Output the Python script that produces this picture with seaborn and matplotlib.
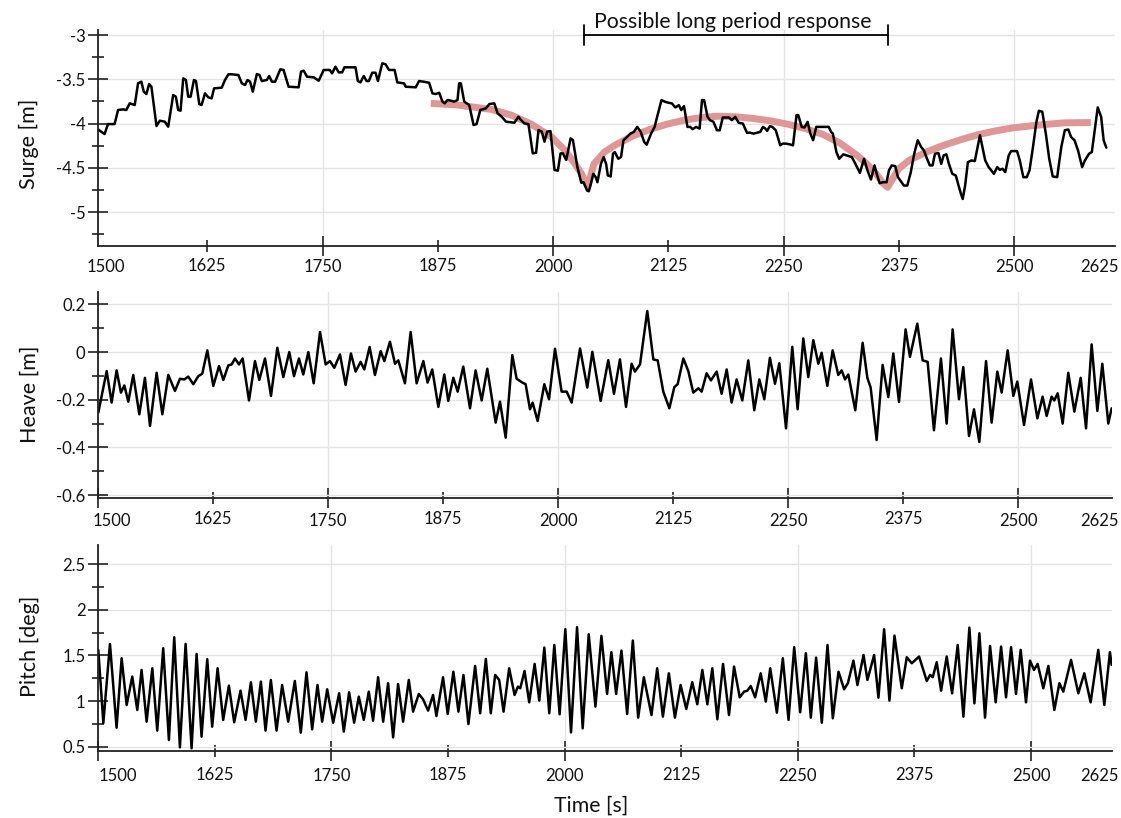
import matplotlib
matplotlib.use("Agg")
import pandas as pd
import matplotlib.pyplot as plt
from matplotlib.ticker import FixedLocator, FuncFormatter
import seaborn as sns

# values: (time [s], value)
surge_pts = [
    (1506.4, -4.066), (1513.6, -4.119), (1517.3, -4.006), (1524.5, -4.006), (1528.2, -3.847),
    (1533.6, -3.840), (1537.2, -3.847), (1540.9, -3.772), (1546.3, -3.791), (1549.9, -3.546),
    (1553.5, -3.527), (1556.1, -3.640), (1559.0, -3.667), (1561.9, -3.554), (1564.4, -3.584),
    (1569.9, -4.028), (1573.5, -3.968), (1578.9, -3.979), (1582.6, -4.036), (1588.0, -3.678),
    (1590.9, -3.697), (1593.4, -3.847), (1596.0, -3.855), (1598.9, -3.490), (1601.8, -3.508),
    (1604.3, -3.697), (1606.9, -3.697), (1610.5, -3.508), (1612.7, -3.520), (1616.3, -3.780),
    (1618.8, -3.791), (1622.5, -3.659), (1626.1, -3.704), (1629.7, -3.716), (1632.3, -3.603),
    (1640.6, -3.595), (1644.2, -3.508), (1647.9, -3.444), (1651.5, -3.444), (1658.7, -3.452),
    (1662.4, -3.546), (1666.0, -3.565), (1668.5, -3.508), (1671.4, -3.527), (1674.3, -3.640),
    (1678.7, -3.441), (1681.6, -3.452), (1684.1, -3.520), (1689.6, -3.508), (1692.1, -3.463),
    (1695.0, -3.527), (1698.6, -3.527), (1704.1, -3.388), (1707.7, -3.395), (1713.1, -3.584),
    (1724.0, -3.591), (1726.6, -3.414), (1729.5, -3.403), (1733.1, -3.471), (1740.3, -3.478),
    (1745.8, -3.516), (1751.2, -3.395), (1757.8, -3.395), (1760.3, -3.433), (1763.9, -3.358),
    (1767.5, -3.422), (1771.2, -3.422), (1773.7, -3.365), (1785.7, -3.365), (1788.2, -3.520),
    (1791.1, -3.535), (1794.7, -3.463), (1797.7, -3.520), (1800.2, -3.520), (1803.8, -3.426),
    (1807.4, -3.426), (1810.0, -3.520), (1814.7, -3.320), (1818.3, -3.331), (1822.0, -3.395),
    (1828.1, -3.395), (1831.0, -3.535), (1838.3, -3.546), (1840.1, -3.584), (1851.0, -3.591),
    (1854.6, -3.520), (1859.3, -3.527), (1865.5, -3.539), (1869.1, -3.659), (1872.7, -3.667),
    (1876.4, -3.652), (1880.0, -3.753), (1882.5, -3.772), (1885.4, -3.734), (1889.1, -3.742),
    (1892.7, -3.753), (1896.3, -3.734), (1898.1, -3.546), (1899.9, -3.546), (1903.6, -3.753),
    (1909.0, -3.791), (1913.7, -4.017), (1917.0, -4.006), (1921.0, -3.847), (1927.1, -3.829),
    (1930.8, -3.780), (1936.2, -3.772), (1939.8, -3.885), (1944.2, -3.923), (1948.9, -3.979),
    (1958.0, -3.991), (1962.3, -3.923), (1965.2, -3.960), (1968.8, -3.998), (1973.2, -4.006),
    (1977.9, -4.337), (1981.5, -4.330), (1984.1, -4.073), (1987.7, -4.092), (1990.6, -4.205),
    (1993.5, -4.092), (1997.1, -4.085), (2001.5, -4.525), (2005.1, -4.533), (2008.0, -4.337),
    (2010.6, -4.337), (2014.2, -4.412), (2018.9, -4.168), (2021.4, -4.186), (2026.2, -4.488),
    (2030.5, -4.669), (2033.0, -4.663), (2036.8, -4.758), (2038.7, -4.765), (2041.3, -4.663),
    (2043.5, -4.568), (2046.2, -4.606), (2048.0, -4.663), (2051.8, -4.455), (2054.8, -4.379),
    (2057.4, -4.455), (2059.3, -4.587), (2062.3, -4.598), (2064.9, -4.341), (2066.8, -4.322),
    (2070.6, -4.398), (2073.6, -4.379), (2076.2, -4.189), (2080.0, -4.152), (2083.7, -4.114),
    (2087.5, -4.095), (2091.2, -4.038), (2095.0, -4.095), (2098.7, -4.208), (2101.4, -4.239),
    (2106.2, -4.114), (2110.0, -4.038), (2113.7, -3.886), (2117.5, -3.735), (2121.2, -3.754),
    (2125.0, -3.765), (2128.8, -3.773), (2132.5, -3.818), (2136.3, -3.792), (2138.9, -3.848),
    (2141.9, -3.803), (2145.6, -4.038), (2148.6, -4.038), (2151.3, -4.064), (2155.0, -4.038),
    (2158.8, -4.057), (2161.4, -3.735), (2163.7, -3.735), (2167.4, -3.924), (2170.0, -3.962),
    (2173.8, -3.981), (2177.6, -4.076), (2180.6, -4.076), (2183.9, -3.932), (2190.7, -3.932),
    (2193.7, -3.962), (2197.4, -3.924), (2201.2, -3.992), (2205.7, -4.000), (2210.2, -4.106),
    (2213.2, -4.102), (2217.0, -4.114), (2224.5, -4.095), (2227.5, -4.038), (2230.1, -4.057),
    (2232.0, -4.083), (2235.0, -4.030), (2237.6, -4.038), (2241.4, -4.076), (2246.2, -4.246),
    (2248.9, -4.227), (2252.6, -4.227), (2256.4, -4.235), (2260.1, -4.246), (2263.9, -3.905),
    (2265.8, -3.905), (2269.5, -4.038), (2272.5, -4.045), (2275.9, -3.981), (2278.9, -4.114),
    (2281.9, -4.189), (2285.3, -4.038), (2288.3, -4.038), (2298.8, -4.038), (2301.4, -4.095),
    (2303.3, -4.114), (2307.1, -4.322), (2310.1, -4.398), (2314.6, -4.348), (2318.3, -4.360),
    (2323.9, -4.379), (2327.7, -4.455), (2332.6, -4.557), (2337.1, -4.398), (2340.8, -4.530),
    (2344.6, -4.633), (2348.4, -4.473), (2351.4, -4.587), (2354.0, -4.674), (2357.7, -4.663),
    (2361.5, -4.663), (2364.1, -4.530), (2367.1, -4.473), (2370.9, -4.481), (2373.9, -4.606),
    (2376.5, -4.644), (2380.3, -4.701), (2384.0, -4.701), (2387.8, -4.549), (2391.5, -4.341),
    (2395.3, -4.189), (2399.0, -4.265), (2402.0, -4.303), (2404.7, -4.379), (2408.4, -4.473),
    (2411.4, -4.473), (2414.0, -4.341), (2417.8, -4.333), (2420.8, -4.455), (2423.4, -4.360),
    (2426.4, -4.348), (2429.1, -4.455), (2432.8, -4.568), (2436.6, -4.587), (2439.6, -4.701),
    (2442.2, -4.795), (2444.1, -4.852), (2446.7, -4.701), (2449.7, -4.436), (2453.5, -4.417),
    (2457.2, -4.424), (2461.0, -4.227), (2462.8, -4.133), (2465.5, -4.265), (2468.5, -4.417),
    (2472.2, -4.492), (2477.9, -4.568), (2481.6, -4.492), (2484.2, -4.523), (2487.2, -4.511),
    (2490.2, -4.549), (2494.0, -4.360), (2496.6, -4.311), (2503.0, -4.311), (2506.0, -4.417),
    (2509.8, -4.606), (2513.5, -4.606), (2516.5, -4.530), (2520.3, -4.265), (2524.0, -3.981),
    (2526.7, -3.856), (2530.4, -3.867), (2534.2, -4.114), (2537.9, -4.398), (2541.7, -4.598),
    (2546.5, -4.606), (2551.0, -4.265), (2554.8, -4.076), (2558.6, -4.068), (2561.6, -4.152),
    (2565.3, -4.189), (2569.1, -4.303), (2573.6, -4.492), (2576.6, -4.417), (2581.1, -4.341),
    (2584.1, -4.322), (2586.7, -4.114), (2590.5, -3.818), (2594.2, -3.924), (2596.9, -4.189),
    (2599.8, -4.273),
]

# the "possible long period response" fit drawn in red
fit_pts = [
    (1867.3, -3.772), (1896.3, -3.791), (1932.6, -3.840), (1954.3, -3.904), (1976.1, -4.006),
    (1997.9, -4.149), (2012.4, -4.299), (2023.3, -4.450), (2030.5, -4.563), (2035.0, -4.660),
    (2037.8, -4.710), (2041.0, -4.580), (2044.3, -4.455), (2055.6, -4.322), (2066.8, -4.246),
    (2085.6, -4.144), (2104.4, -4.068), (2123.1, -4.008), (2141.9, -3.962), (2160.7, -3.932),
    (2179.4, -3.917), (2198.2, -3.924), (2217.0, -3.943), (2235.8, -3.970), (2254.5, -4.008),
    (2273.3, -4.057), (2292.1, -4.121), (2310.8, -4.220), (2329.6, -4.360), (2340.8, -4.462),
    (2350.2, -4.568), (2357.7, -4.674), (2362.6, -4.720), (2367.1, -4.644), (2374.6, -4.511),
    (2385.9, -4.417), (2404.7, -4.322), (2423.4, -4.246), (2442.2, -4.182), (2461.0, -4.125),
    (2479.7, -4.083), (2498.5, -4.049), (2517.3, -4.027), (2536.1, -4.008), (2554.8, -3.992),
    (2583.0, -3.989),
]

heave_pts = [
    (1500.0, -0.254), (1509.1, -0.080), (1514.5, -0.212), (1519.9, -0.077), (1524.6, -0.170),
    (1528.3, -0.140), (1532.6, -0.208), (1538.0, -0.096), (1544.6, -0.261), (1550.7, -0.108),
    (1556.2, -0.310), (1563.4, -0.087), (1569.6, -0.261), (1576.1, -0.096), (1583.3, -0.163),
    (1588.8, -0.112), (1593.5, -0.115), (1597.8, -0.103), (1603.3, -0.135), (1608.7, -0.101),
    (1613.0, -0.091), (1618.5, 0.007), (1625.0, -0.142), (1631.2, -0.059), (1635.9, -0.117),
    (1641.3, -0.056), (1644.9, -0.052), (1648.6, -0.027), (1652.9, -0.052), (1656.9, -0.027),
    (1663.8, -0.203), (1670.3, -0.038), (1675.0, -0.117), (1681.2, -0.027), (1687.7, -0.184),
    (1694.6, 0.018), (1701.1, -0.105), (1707.6, 0.000), (1712.7, -0.101), (1718.1, -0.027),
    (1722.8, -0.094), (1728.3, 0.000), (1734.1, -0.131), (1741.0, 0.084), (1747.1, -0.052),
    (1751.8, -0.038), (1756.5, -0.066), (1762.7, -0.010), (1768.8, -0.138), (1774.6, -0.006),
    (1779.7, -0.082), (1785.1, -0.041), (1789.1, -0.073), (1794.9, 0.021), (1800.7, -0.096),
    (1806.9, 0.004), (1810.9, -0.038), (1817.0, 0.043), (1822.5, -0.049), (1826.1, -0.035),
    (1833.3, -0.131), (1839.5, 0.084), (1846.0, -0.131), (1853.3, -0.038), (1857.9, -0.128),
    (1863.0, -0.073), (1869.6, -0.230), (1876.1, -0.094), (1880.4, -0.205), (1885.9, -0.108),
    (1890.6, -0.166), (1896.7, -0.061), (1904.0, -0.236), (1910.1, -0.077), (1916.7, -0.203),
    (1922.8, -0.070), (1931.9, -0.296), (1936.6, -0.208), (1942.8, -0.359), (1950.0, -0.013),
    (1954.7, -0.112), (1960.9, -0.128), (1964.5, -0.135), (1969.2, -0.240), (1972.1, -0.212),
    (1977.5, -0.289), (1984.8, -0.135), (1989.9, -0.198), (1996.4, 0.014), (2003.6, -0.166),
    (2009.1, -0.166), (2014.5, -0.212), (2023.6, 0.015), (2031.5, -0.149), (2037.0, 0.001),
    (2046.0, -0.205), (2054.3, -0.034), (2060.5, -0.175), (2067.0, -0.031), (2073.6, -0.230),
    (2079.7, -0.049), (2083.3, -0.082), (2088.8, -0.052), (2096.7, 0.172), (2103.3, -0.031),
    (2108.0, -0.035), (2114.1, -0.166), (2120.7, -0.236), (2126.1, -0.147), (2129.7, -0.135),
    (2135.9, -0.027), (2141.3, -0.080), (2146.7, -0.170), (2152.2, -0.152), (2155.8, -0.166),
    (2161.2, -0.089), (2165.9, -0.119), (2172.1, -0.082), (2177.5, -0.175), (2183.0, -0.073),
    (2188.4, -0.212), (2193.8, -0.115), (2200.0, -0.203), (2206.5, -0.035), (2213.0, -0.244),
    (2218.5, -0.115), (2223.9, -0.198), (2230.0, -0.024), (2235.5, -0.133), (2240.2, -0.047),
    (2247.5, -0.320), (2254.3, 0.022), (2260.1, -0.240), (2266.3, 0.057), (2271.7, -0.105),
    (2277.2, 0.050), (2282.6, -0.049), (2286.2, -0.003), (2292.4, -0.142), (2298.2, 0.007),
    (2304.3, -0.096), (2308.0, -0.077), (2311.6, -0.115), (2315.2, -0.094), (2322.8, -0.244),
    (2330.8, 0.039), (2335.9, -0.108), (2339.5, -0.149), (2346.0, -0.369), (2352.5, -0.054),
    (2358.7, -0.189), (2364.1, -0.006), (2370.3, -0.209), (2377.5, 0.095), (2382.2, -0.020),
    (2390.2, 0.119), (2396.0, -0.035), (2401.4, -0.041), (2408.3, -0.328), (2415.9, -0.027),
    (2422.1, -0.300), (2428.6, 0.095), (2435.5, -0.198), (2440.2, -0.063), (2446.4, -0.352),
    (2451.8, -0.240), (2457.6, -0.377), (2464.9, -0.038), (2471.0, -0.296), (2477.2, -0.082),
    (2481.9, -0.170), (2488.4, 0.007), (2494.6, -0.184), (2498.9, -0.124), (2506.2, -0.306),
    (2513.8, -0.115), (2520.7, -0.278), (2526.4, -0.187), (2530.8, -0.268), (2536.2, -0.187),
    (2539.1, -0.203), (2542.8, -0.173), (2548.2, -0.300), (2554.3, -0.087), (2560.9, -0.250),
    (2567.8, -0.108), (2573.6, -0.320), (2579.7, 0.032), (2585.9, -0.247), (2591.3, -0.049),
    (2597.8, -0.300), (2601.4, -0.236),
]

pitch_pts = [
    (1500.0, 1.560), (1505.4, 0.760), (1512.5, 1.626), (1519.6, 0.708), (1525.0, 1.469),
    (1530.4, 0.957), (1536.4, 1.268), (1541.8, 0.902), (1546.4, 1.341), (1551.8, 0.774),
    (1557.9, 1.359), (1563.2, 0.676), (1569.6, 1.579), (1575.7, 0.573), (1581.4, 1.699),
    (1587.5, 0.493), (1593.6, 1.626), (1600.0, 0.482), (1605.4, 1.516), (1610.7, 0.610),
    (1616.8, 1.458), (1622.1, 0.719), (1627.9, 1.359), (1633.9, 0.793), (1640.0, 1.169),
    (1645.7, 0.767), (1652.5, 1.114), (1657.9, 0.793), (1663.6, 1.206), (1668.9, 0.774),
    (1674.3, 1.213), (1679.3, 0.676), (1685.0, 1.231), (1691.1, 0.676), (1697.1, 1.176),
    (1703.6, 0.774), (1710.7, 1.220), (1717.1, 0.654), (1723.2, 1.315), (1729.3, 0.690),
    (1735.0, 1.176), (1740.0, 0.774), (1745.4, 1.129), (1751.8, 0.763), (1758.2, 1.085),
    (1763.2, 0.665), (1768.9, 1.096), (1774.3, 0.763), (1779.3, 1.048), (1784.6, 0.793),
    (1790.0, 1.103), (1794.6, 0.785), (1800.0, 1.261), (1805.4, 0.774), (1810.7, 1.195),
    (1816.1, 0.602), (1821.4, 1.187), (1826.8, 0.774), (1832.9, 1.231), (1837.5, 0.884),
    (1843.6, 1.078), (1848.2, 1.019), (1853.6, 0.895), (1858.9, 1.067), (1862.5, 0.836),
    (1869.6, 1.261), (1874.6, 0.858), (1880.7, 1.322), (1886.1, 0.884), (1891.5, 1.286),
    (1896.8, 0.748), (1904.0, 1.385), (1909.4, 0.866), (1915.5, 1.462), (1920.8, 0.866),
    (1925.5, 1.286), (1929.8, 1.231), (1934.5, 0.884), (1940.5, 1.359), (1946.3, 1.067),
    (1949.9, 1.158), (1952.4, 1.140), (1957.0, 1.330), (1962.0, 0.986), (1967.8, 1.407),
    (1972.8, 1.005), (1978.2, 1.586), (1983.5, 0.866), (1988.9, 1.615), (1994.6, 0.855),
    (2000.7, 1.787), (2006.8, 0.657), (2013.3, 1.809), (2019.3, 0.701), (2025.8, 1.732),
    (2033.0, 0.939), (2039.4, 1.714), (2045.5, 1.078), (2050.1, 1.535), (2055.2, 1.078),
    (2060.9, 1.553), (2067.0, 0.858), (2073.1, 1.663), (2078.8, 0.818), (2084.9, 1.261),
    (2093.1, 0.847), (2099.2, 1.359), (2105.3, 0.829), (2111.7, 1.304), (2118.2, 0.818),
    (2124.3, 1.176), (2130.4, 0.913), (2136.8, 1.206), (2142.2, 0.964), (2147.6, 1.341),
    (2153.0, 0.964), (2158.3, 1.359), (2163.7, 0.800), (2169.8, 1.407), (2176.2, 0.847),
    (2181.6, 1.378), (2187.7, 1.041), (2192.3, 1.103), (2195.9, 1.114), (2199.5, 1.165),
    (2204.2, 1.041), (2210.2, 1.304), (2215.6, 0.994), (2220.4, 1.359), (2227.5, 0.873),
    (2233.9, 1.469), (2240.0, 0.793), (2246.1, 1.590), (2252.5, 0.877), (2258.6, 1.524),
    (2263.9, 0.818), (2269.6, 1.476), (2275.7, 0.763), (2281.8, 1.615), (2287.5, 0.811),
    (2293.6, 1.322), (2299.6, 1.129), (2303.6, 1.195), (2309.6, 1.443), (2313.9, 1.176),
    (2320.4, 1.505), (2324.6, 1.231), (2331.8, 1.505), (2336.4, 1.037), (2342.5, 1.787),
    (2348.2, 1.005), (2353.6, 1.718), (2361.4, 1.140), (2366.8, 1.480), (2372.1, 1.414),
    (2380.0, 1.488), (2388.2, 1.220), (2391.8, 1.287), (2394.6, 1.261), (2398.9, 1.425),
    (2403.6, 1.114), (2409.6, 1.488), (2415.4, 1.085), (2421.4, 1.615), (2427.5, 0.829),
    (2433.9, 1.805), (2439.3, 0.975), (2444.6, 1.743), (2450.7, 0.818), (2456.1, 1.604),
    (2462.1, 0.986), (2467.9, 1.597), (2473.2, 1.041), (2478.6, 1.590), (2483.9, 1.078),
    (2488.9, 1.561), (2494.6, 0.986), (2498.9, 1.443), (2503.2, 1.341), (2507.1, 1.407),
    (2513.2, 1.140), (2518.6, 1.385), (2525.0, 0.902), (2530.4, 1.195), (2534.6, 1.103),
    (2542.9, 1.451), (2550.7, 1.085), (2557.1, 1.304), (2563.9, 0.986), (2572.1, 1.561),
    (2578.6, 0.957), (2584.6, 1.535), (2586.4, 1.396),
]

x_major = [1500, 1750, 2000, 2250, 2500]
x_minor = [1625, 1875, 2125, 2375]

surge_ticks = [-5, -4.5, -4, -3.5, -3]
surge_minor = [-5.25, -4.75, -4.25, -3.75, -3.25]
heave_ticks = [-0.6, -0.4, -0.2, 0, 0.2]
heave_minor = [-0.5, -0.3, -0.1, 0.1]
pitch_ticks = [0.5, 1, 1.5, 2, 2.5]
pitch_minor = [0.75, 1.25, 1.75, 2.25]

sns.set_theme(style="white")
plt.rcParams["font.family"] = ["Lato", "DejaVu Sans"]
plt.rcParams["axes.unicode_minus"] = False

W, H = 1121, 818
fig = plt.figure(figsize=(W / 100, H / 100), dpi=100)
PX = 0.72  # points per pixel
INK = "#111111"


def add_axes(left, right, top, bottom):
    return fig.add_axes([left / W, 1 - bottom / H, (right - left) / W, (bottom - top) / H])


def to_df(pts):
    return pd.DataFrame(pts, columns=["t", "v"])


def style(ax, xlim, ylim, yticks, yminor, ylabel, xpad, first_px, right_px, label_y):
    ax.set_xlim(*xlim)
    ax.set_ylim(*ylim)
    ax.xaxis.set_major_locator(FixedLocator(x_major))
    ax.xaxis.set_minor_locator(FixedLocator(x_minor))
    ax.xaxis.set_major_formatter(FuncFormatter(lambda v, p: "" if v == 1500 else f"{v:g}"))
    ax.xaxis.set_minor_formatter(FuncFormatter(lambda v, p: f"{v:g}"))
    ax.yaxis.set_major_locator(FixedLocator(yticks))
    ax.yaxis.set_minor_locator(FixedLocator(yminor))
    ax.yaxis.set_major_formatter(FuncFormatter(lambda v, p: f"{v:g}"))

    ax.tick_params(axis="both", which="both", bottom=True, left=True, top=False, right=False,
                   color="#222222", width=1.2, labelcolor=INK)
    ax.tick_params(axis="x", which="major", direction="inout", length=14.4,
                   labelsize=12, pad=xpad)
    ax.tick_params(axis="x", which="minor", direction="inout", length=8,
                   labelsize=12, pad=xpad + 2)
    ax.tick_params(axis="y", which="major", direction="inout", length=13.7,
                   labelsize=12, pad=2.5)
    ax.tick_params(axis="y", which="minor", direction="inout", length=8)

    ax.grid(True, which="major", color="#e4e4e4", lw=1.0)
    ax.set_axisbelow(True)
    for s in ["top", "right"]:
        ax.spines[s].set_visible(False)
    for s in ["left", "bottom"]:
        ax.spines[s].set_color("#222222")
        ax.spines[s].set_linewidth(1.3)

    ax.set_xlabel("")
    ax.set_ylabel(ylabel, fontsize=15.5, color=INK)
    ax.yaxis.set_label_coords(label_y[0], label_y[1])

    # end labels sit inside the axis ends, as in the reference
    off = -(7.2 + xpad)
    ax.annotate("1500", xy=(0, 0), xycoords="axes fraction",
                xytext=(first_px * PX, off), textcoords="offset points",
                ha="center", va="top", fontsize=12, color=INK, annotation_clip=False)
    ax.annotate("2625", xy=(1, 0), xycoords="axes fraction",
                xytext=(right_px * PX, off), textcoords="offset points",
                ha="right", va="top", fontsize=12, color=INK, annotation_clip=False)


# Surge
ax1 = add_axes(98.3, 1114.8, 30, 245.7)
sns.lineplot(data=to_df(fit_pts), x="t", y="v", ax=ax1, color="#de9696", lw=5,
             estimator=None, sort=False, solid_capstyle="butt")
sns.lineplot(data=to_df(surge_pts), x="t", y="v", ax=ax1, color="black", lw=1.8,
             estimator=None, sort=False)
style(ax1, (1506.8, 2609), (-5.38, -2.9435), surge_ticks, surge_minor, "Surge [m]",
      2.6, 7.7, 4.2, (-0.058, 0.474))

# bracket marking the long period response
b0, b1, by = 2033.8, 2362.6, -3.0
ax1.plot([b0, b1], [by, by], color="black", lw=1.3, clip_on=False)
ax1.plot([b0, b0], [by - 0.113, by + 0.113], color="black", lw=1.3, clip_on=False)
ax1.plot([b1, b1], [by - 0.113, by + 0.113], color="black", lw=1.3, clip_on=False)
ax1.annotate("Possible long period response", xy=(2194.9, by), xycoords="data",
             xytext=(0, 2), textcoords="offset points", ha="center", va="bottom",
             fontsize=15.3, color=INK, annotation_clip=False)

# Heave
ax2 = add_axes(98.3, 1111.7, 291.7, 498)
sns.lineplot(data=to_df(heave_pts), x="t", y="v", ax=ax2, color="black", lw=1.8,
             estimator=None, sort=False)
style(ax2, (1500, 2601.5), (-0.612, 0.253), heave_ticks, heave_minor, "Heave [m]",
      3.6, 13.7, 7.3, (-0.058, 0.504))

# Pitch
ax3 = add_axes(98.3, 1111.7, 545, 750.7)
sns.lineplot(data=to_df(pitch_pts), x="t", y="v", ax=ax3, color="black", lw=1.8,
             estimator=None, sort=False)
style(ax3, (1500, 2586.5), (0.456, 2.71), pitch_ticks, pitch_minor, "Pitch [deg]",
      5.5, 20.0, 7.3, (-0.058, 0.507))

fig.text(591 / W, 1 - 806 / H, "Time [s]", ha="center", va="center", fontsize=15.3,
         color=INK)

fig.savefig("out.png", dpi=100)
